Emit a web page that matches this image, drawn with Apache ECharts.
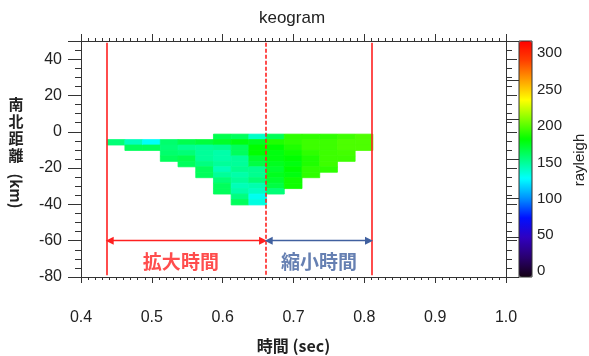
<!DOCTYPE html>
<html>
<head>
<meta charset="utf-8">
<script src="https://cdn.jsdelivr.net/npm/echarts@6.0.0/dist/echarts.min.js"></script>
<style>
  html, body { margin: 0; padding: 0; background: #fff; }
  #keogram { width: 589px; height: 356px; }
</style>
</head>
<body>
<div id="keogram"></div>
<script>
// 時間ビンの開始時刻 (sec)
const timeStart = [0.437, 0.462, 0.487, 0.512, 0.537, 0.562, 0.587, 0.612,
  0.637, 0.662, 0.687, 0.712, 0.737, 0.762, 0.787]
const timeBin = 0.025
// 距離ビンの上端 (km)
const distTop = [-1.3, -4.3, -7.3, -10.3, -13.3, -16.3, -19.3, -22.3,
  -25.3, -28.3, -31.3, -34.3, -37.3]
const distBin = 3
// 時間ビンごとの輝度 (rayleigh)，上の行から順に
const rayleigh = [
  [null, 152],
  [null, 138, 157],
  [null, 126, 157],
  [null, 154, 152, 154, 157],
  [null, 160, 147, 152, 160, 157],
  [null, 163, 145, 145, 145, 150, 157, 157],
  [160, 167, 147, 142, 142, 145, 139, 145, 152, 157, 157],
  [157, 172, 157, 157, 145, 145, 147, 142, 145, 139, 142, 150, 157],
  [136, 169, 175, 175, 166, 162, 147, 147, 152, 141, 137, 128, 131],
  [158, 181, 175, 172, 172, 169, 166, 169, 166, 162, 152],
  [184, 184, 181, 178, 175, 172, 175, 172, 178, 178],
  [184, 187, 187, 184, 181, 181, 184, 184],
  [184, 187, 187, 187, 187, 187, 184],
  [187, 190, 190, 188, 187],
  [190, 190, 190]
]
// 縦線: 開始, 切替, 終了
const markTimes = [0.4365, 0.661, 0.8106]
const arrowDist = -60
const labelTexts = ['拡大時間', '縮小時間']
const labelTimes = [0.541, 0.736]
const labelDist = -71.5
// カラーバー
const barTicks = [0, 50, 100, 150, 200, 250, 300]
const barLabelShift = [-6, -2.5, 0.5, 3.5, 6.5, 9.5, 12]
const rainbow = ['#140014', '#2a0070', '#3000c0', '#0010ff', '#0090ff', '#00ffff',
  '#00ff80', '#00ff00', '#80ff00', '#ffff00', '#ffa000', '#ff4000', '#ff0000']

const FONT = '"Liberation Sans", Arial, sans-serif'
const CJK = '"Noto Sans CJK JP", sans-serif'
const RED = '#ff2020'
const BLUE = '#40609f'

const cells = []
rayleigh.forEach((col, i) => {
  col.forEach((v, j) => {
    if (v != null) cells.push([timeStart[i], distTop[j], v])
  })
})

// セルを矩形で描く（隙間が出ないよう同色で縁取り）
const renderCell = (params, api) => {
  const t = api.value(0)
  const d = api.value(1)
  const p0 = api.coord([t, d])
  const p1 = api.coord([t + timeBin, d - distBin])
  const color = api.visual('color')
  return {
    type: 'rect',
    shape: { x: p0[0], y: p0[1], width: p1[0] - p0[0], height: p1[1] - p0[1] },
    style: { fill: color, stroke: color, lineWidth: 0.8 }
  }
}

const barRich = {}
barTicks.forEach((v, i) => {
  const s = barLabelShift[i]
  barRich['s' + v] = {
    fontSize: 15, fontFamily: FONT, color: '#222',
    padding: s >= 0 ? [2 * s, 0, 0, 0] : [0, 0, -2 * s, 0]
  }
})

const axisColor = '#333'
const frameX = (pos, showLabel) => ({
  gridIndex: 0, type: 'value', position: pos,
  min: 0.4, max: 1.0, interval: 0.1,
  axisLine: { show: true, onZero: false, lineStyle: { color: axisColor } },
  axisTick: { show: true, length: pos === 'top' ? 7 : 6, lineStyle: { color: axisColor } },
  minorTick: { show: true, splitNumber: 10, length: 3, lineStyle: { color: axisColor } },
  splitLine: { show: false },
  axisLabel: {
    show: showLabel, margin: 33, fontSize: 16, color: '#222', fontFamily: FONT,
    formatter: v => v.toFixed(1)
  }
})
const frameY = (pos, showLabel) => ({
  gridIndex: 0, type: 'value', position: pos,
  min: -80, max: 50, interval: 20,
  axisLine: { show: true, onZero: false, lineStyle: { color: axisColor } },
  axisTick: { show: true, length: pos === 'left' ? 13 : 11, lineStyle: { color: axisColor } },
  minorTick: { show: true, splitNumber: 4, length: 6, lineStyle: { color: axisColor } },
  splitLine: { show: false },
  axisLabel: {
    show: showLabel, margin: 19, fontSize: 16, color: '#222', fontFamily: FONT,
    showMaxLabel: false
  }
})

const chart = echarts.init(document.getElementById('keogram'))
chart.setOption({
  animation: false,
  grid: [
    { left: 81, top: 41, width: 425, height: 236, outerBoundsMode: 'none' },
    { left: 519, top: 41, width: 13, height: 236, show: true, z: 10,
      borderColor: axisColor, borderWidth: 1, backgroundColor: 'transparent', outerBoundsMode: 'none' }
  ],
  xAxis: [
    Object.assign(frameX('bottom', true), {
      name: '時間 (sec)', nameLocation: 'middle', nameGap: 61,
      nameTextStyle: { fontSize: 16, fontWeight: 'bold', color: '#222', fontFamily: CJK }
    }),
    frameX('top', false),
    { gridIndex: 1, type: 'value', min: 0, max: 1, show: false }
  ],
  yAxis: [
    frameY('left', true),
    frameY('right', false),
    {
      gridIndex: 1, type: 'value', position: 'right', z: 10,
      min: 0, max: 300, interval: 50,
      axisLine: { show: false },
      axisTick: { show: true, inside: true, length: 13, lineStyle: { color: axisColor } },
      splitLine: { show: false },
      axisLabel: {
        margin: 5,
        formatter: v => '{s' + v + '|' + v + '}',
        rich: barRich
      }
    }
  ],
  visualMap: {
    type: 'continuous', min: 0, max: 300, dimension: 2, seriesIndex: 0,
    left: 519, top: 41, itemWidth: 13, itemHeight: 236, padding: 0,
    calculable: false, hoverLink: false, text: null,
    inRange: { color: rainbow }
  },
  graphic: [
    { type: 'text', x: 292, y: 18,
      style: { text: 'keogram', fill: '#222', font: '17px ' + FONT,
        textAlign: 'center', textVerticalAlign: 'middle' } },
    { type: 'text', x: 16, y: 129.5,
      style: { text: '南\n北\n距\n離', fill: '#222', font: 'bold 15px ' + CJK, lineHeight: 17,
        textAlign: 'center', textVerticalAlign: 'middle' } },
    { type: 'text', x: 16, y: 191, rotation: -Math.PI / 2,
      style: { text: '(km)', fill: '#222', font: 'bold 15px ' + CJK,
        textAlign: 'center', textVerticalAlign: 'middle' } },
    { type: 'text', x: 580, y: 160, rotation: Math.PI / 2,
      style: { text: 'rayleigh', fill: '#222', font: '15px ' + FONT,
        textAlign: 'center', textVerticalAlign: 'middle' } }
  ],
  series: [
    {
      type: 'custom', xAxisIndex: 0, yAxisIndex: 0,
      renderItem: renderCell, encode: { x: 0, y: 1 },
      data: cells, silent: true
    },
    {
      type: 'lines', coordinateSystem: 'cartesian2d', xAxisIndex: 0, yAxisIndex: 0,
      silent: true, symbol: ['none', 'none'],
      lineStyle: { color: RED, width: 1.6, opacity: 1 },
      data: [
        { coords: [[markTimes[0], 49], [markTimes[0], -79]] },
        { coords: [[markTimes[2], 49], [markTimes[2], -79]] },
        { coords: [[markTimes[1], 49], [markTimes[1], -79]], lineStyle: { type: [4, 2] } }
      ]
    },
    {
      type: 'lines', coordinateSystem: 'cartesian2d', xAxisIndex: 0, yAxisIndex: 0,
      silent: true, symbol: ['triangle', 'triangle'], symbolSize: 8,
      lineStyle: { width: 1.4, opacity: 1 },
      data: [
        { coords: [[markTimes[0] + 0.004, arrowDist], [markTimes[1] - 0.004, arrowDist]],
          lineStyle: { color: RED } },
        { coords: [[markTimes[1] + 0.004, arrowDist], [markTimes[2] - 0.004, arrowDist]],
          lineStyle: { color: BLUE } }
      ]
    },
    {
      type: 'scatter', xAxisIndex: 0, yAxisIndex: 0, symbolSize: 0, silent: true,
      label: { show: true, position: 'inside', formatter: '{b}', fontSize: 19,
        fontWeight: 'bold', fontFamily: CJK },
      data: labelTimes.map((t, i) => ({
        name: labelTexts[i], value: [t, labelDist],
        label: { color: i === 0 ? RED : BLUE }
      }))
    },
    { type: 'scatter', xAxisIndex: 2, yAxisIndex: 2, data: [] }
  ]
})
</script>
</body>
</html>
